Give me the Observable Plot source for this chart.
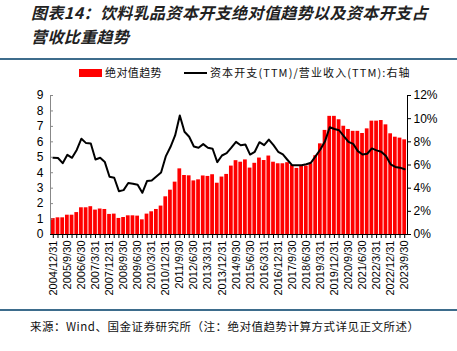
<!DOCTYPE html>
<html>
<head>
<meta charset="utf-8">
<script src="https://cdn.jsdelivr.net/npm/d3@7"></script>
<script src="https://cdn.jsdelivr.net/npm/@observablehq/plot@0.6"></script>
<style>
  body { margin: 0; width: 457px; height: 351px; background: #fff; position: relative; overflow: hidden;
         font-family: "Noto Sans CJK SC", "Noto Sans", sans-serif; }
  .title { position: absolute; left: 31px; top: 0px; font-size: 16px; font-weight: bold; font-style: italic;
           line-height: 24px; color: #222; letter-spacing: 0.4px; }
  .rule { position: absolute; left: 0; width: 457px; height: 1.5px; background: #3d6c8c; }
  .legend { position: absolute; top: 64px; left: 0; width: 457px; font-size: 11px; color: #111; }
  .legend span { position: absolute; white-space: nowrap; }
  .source { position: absolute; left: 30px; top: 318px; font-size: 11.5px; color: #111; white-space: nowrap; letter-spacing: 0.5px; }
  #chart { position: absolute; left: 0; top: 85px; }
</style>
</head>
<body>
<div class="title">图表14：饮料乳品资本开支绝对值趋势以及资本开支占<br>营收比重趋势</div>
<div class="rule" style="top:58px"></div>
<div class="legend">
  <span style="left:79px;top:5px;width:23px;height:8px;background:#ff0000"></span>
  <span style="left:105px;top:0px;letter-spacing:0.4px">绝对值趋势</span>
  <span style="left:184px;top:8px;width:23px;height:2px;background:#000"></span>
  <span style="left:210px;top:0px;letter-spacing:1.1px">资本开支(TTM)/营业收入(TTM):右轴</span>
</div>
<div id="chart"></div>
<div class="rule" style="top:309px"></div>
<div class="source">来源：Wind、国金证券研究所（注：绝对值趋势计算方式详见正文所述）</div>
<script>
const dates = [
  "2004/12/31",
  "2005/3/31","2005/6/30","2005/9/30","2005/12/31",
  "2006/3/31","2006/6/30","2006/9/30","2006/12/31",
  "2007/3/31","2007/6/30","2007/9/30","2007/12/31",
  "2008/3/31","2008/6/30","2008/9/30","2008/12/31",
  "2009/3/31","2009/6/30","2009/9/30","2009/12/31",
  "2010/3/31","2010/6/30","2010/9/30","2010/12/31",
  "2011/3/31","2011/6/30","2011/9/30","2011/12/31",
  "2012/3/31","2012/6/30","2012/9/30","2012/12/31",
  "2013/3/31","2013/6/30","2013/9/30","2013/12/31",
  "2014/3/31","2014/6/30","2014/9/30","2014/12/31",
  "2015/3/31","2015/6/30","2015/9/30","2015/12/31",
  "2016/3/31","2016/6/30","2016/9/30","2016/12/31",
  "2017/3/31","2017/6/30","2017/9/30","2017/12/31",
  "2018/3/31","2018/6/30","2018/9/30","2018/12/31",
  "2019/3/31","2019/6/30","2019/9/30","2019/12/31",
  "2020/3/31","2020/6/30","2020/9/30","2020/12/31",
  "2021/3/31","2021/6/30","2021/9/30","2021/12/31",
  "2022/3/31","2022/6/30","2022/9/30","2022/12/31",
  "2023/3/31","2023/6/30","2023/9/30"
];
// 绝对值趋势 (left axis)
const absTrend = [
  1.03,1.08,1.08,1.25,1.25,1.42,1.73,1.73,1.80,1.58,
  1.65,1.62,1.30,1.32,1.04,1.10,1.21,1.21,1.19,0.95,
  1.32,1.47,1.62,1.84,2.44,2.87,3.39,4.25,3.82,3.80,
  3.47,3.54,3.79,3.76,3.87,3.32,3.72,3.89,4.43,4.78,
  4.68,4.83,4.30,4.61,4.95,4.79,5.08,4.68,4.58,4.58,
  4.65,4.47,4.28,4.47,4.43,4.58,5.10,5.87,6.74,7.65,
  7.65,7.43,7.01,6.80,6.68,6.68,6.54,6.84,7.34,7.34,
  7.38,7.10,6.52,6.30,6.24,6.13
];
// 资本开支(TTM)/营业收入(TTM), % (right axis)
const capexRatio = [
  6.62,6.60,6.16,6.88,6.62,7.30,8.27,7.89,7.86,6.48,
  6.62,6.25,4.98,4.90,3.74,3.83,4.44,4.38,4.29,3.60,
  4.61,4.67,5.01,5.36,6.74,7.55,8.55,10.28,8.87,8.44,
  7.60,7.49,7.80,7.49,7.40,6.25,6.82,7.03,7.50,8.00,
  7.71,7.77,6.90,7.14,7.97,7.71,8.20,7.71,7.14,6.91,
  6.43,5.97,5.97,5.97,6.06,6.20,6.77,7.34,8.06,9.26,
  9.11,9.00,8.49,8.00,7.83,7.20,6.91,6.97,7.43,7.26,
  7.14,6.77,6.06,5.83,5.77,5.63
];
const leftTicks = [0,1,2,3,4,5,6,7,8,9];
const rightTicks = [0,2,4,6,8,10,12];
const labelDates = dates.filter((d, i) => i % 3 === 0);

const k = 9 / 12; // right axis (%) -> left axis units
const data = dates.map((d, i) => ({date: d, abs: absTrend[i], ratio: capexRatio[i]}));

const chart = Plot.plot({
  width: 457,
  height: 219,
  marginTop: 10,
  marginBottom: 70,
  marginLeft: 50,
  marginRight: 50,
  style: {fontFamily: "'Liberation Sans', Arial, sans-serif", fontSize: "12px", color: "#000", background: "transparent"},
  x: {type: "band", domain: dates, padding: 0.2, axis: null},
  y: {domain: [0, 9], axis: null},
  marks: [
    Plot.barY(data, {x: "date", y: "abs", fill: "#ff0000"}),
    Plot.lineY(data, {x: "date", y: d => d.ratio * k, stroke: "#000", strokeWidth: 2}),
    Plot.axisY({anchor: "left", label: null, ticks: leftTicks, tickSize: -3, tickPadding: 10, stroke: "#888", fontSize: 12}),
    Plot.axisY({anchor: "right", label: null, ticks: rightTicks.map(v => v * k), tickFormat: v => Math.round(v / k) + "%", tickSize: 3, tickPadding: 3, fontSize: 12}),
    Plot.axisX({label: null, ticks: dates, tickSize: 4, tickFormat: () => "", stroke: "#000"}),
    Plot.axisX({label: null, ticks: labelDates, tickSize: 0, tickPadding: 6, tickRotate: -90, fontSize: 11}),
    Plot.frame({anchor: "left", stroke: "#888"}),
    Plot.frame({anchor: "right", stroke: "#000"}),
    Plot.ruleY([0], {stroke: "#000"})
  ]
});
document.getElementById("chart").appendChild(chart);
</script>
</body>
</html>
